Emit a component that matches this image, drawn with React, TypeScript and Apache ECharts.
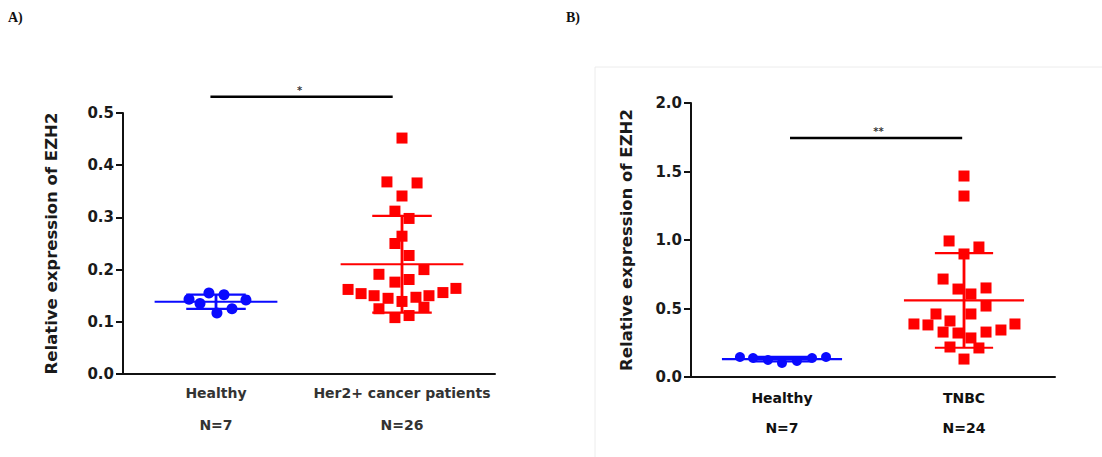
import React, { useEffect, useRef } from 'react';
import * as echarts from 'echarts';

// ---------- Panel A data ----------
const categoriesA = ['Healthy', 'Her2+ cancer patients'];
const healthyAValues = [0.143, 0.155, 0.152, 0.142, 0.117, 0.125, 0.135];
const healthyAOffsets = [-0.145, -0.038, 0.043, 0.161, 0.005, 0.086, -0.086];
const her2Values = [
  0.452, 0.368, 0.366, 0.341, 0.312, 0.298, 0.264, 0.25, 0.227, 0.2, 0.191, 0.176, 0.181,
  0.162, 0.154, 0.15, 0.145, 0.139, 0.147, 0.15, 0.156, 0.164, 0.125, 0.128, 0.108, 0.112,
];
const her2Offsets = [
  0, -0.081, 0.081, 0, -0.038, 0.038, 0, -0.038, 0.038, 0.118, -0.124, -0.038, 0.038,
  -0.29, -0.22, -0.15, -0.075, 0, 0.075, 0.145, 0.22, 0.29, -0.124, 0.118, -0.038, 0.038,
];
const yAxisA = { min: 0, max: 0.5, interval: 0.1 };
const sigA = { from: -0.03, to: 0.95, y: 0.531, starX: 0.45, label: '*' };

// ---------- Panel B data ----------
const categoriesB = ['Healthy', 'TNBC'];
const healthyBValues = [0.146, 0.139, 0.124, 0.102, 0.117, 0.139, 0.146];
const healthyBOffsets = [-0.231, -0.159, -0.077, 0, 0.082, 0.165, 0.242];
const tnbcValues = [
  1.467, 1.321, 0.993, 0.949, 0.898, 0.715, 0.642, 0.65, 0.606, 0.518, 0.46, 0.46, 0.387,
  0.38, 0.409, 0.387, 0.343, 0.328, 0.328, 0.321, 0.285, 0.219, 0.212, 0.131,
];
const tnbcOffsets = [
  0, 0, -0.082, 0.082, 0, -0.115, -0.033, 0.121, 0.038, 0.121, 0.038, -0.154, -0.275,
  -0.198, -0.077, 0.28, 0.203, 0.121, -0.115, -0.033, 0.038, -0.077, 0.082, 0,
];
const yAxisB = { min: 0, max: 2, interval: 0.5 };
const sigB = { from: 0.044, to: 0.99, y: 1.745, starX: 0.53, label: '**' };

const yTitle = 'Relative expression of EZH2';

const BLUE = '#0a0aff';
const RED = '#ff0000';
const FONT = '"DejaVu Sans", sans-serif';

function swarm(values: number[], offsets: number[], center: number) {
  return values.map((v, i) => [center + offsets[i], v]);
}

function meanSd(values: number[]) {
  const n = values.length;
  const m = values.reduce((a, b) => a + b, 0) / n;
  const sd = Math.sqrt(values.reduce((a, b) => a + (b - m) * (b - m), 0) / (n - 1));
  return [m, sd];
}

function statSeries(xIdx: number, yIdx: number, center: number, values: number[], color: string) {
  const [m, sd] = meanSd(values);
  return {
    type: 'custom',
    xAxisIndex: xIdx,
    yAxisIndex: yIdx,
    z: 3,
    silent: true,
    clip: false,
    data: [[center, m, sd]],
    renderItem: (params: any, api: any) => {
      const x = api.value(0);
      const mean = api.value(1);
      const s = api.value(2);
      const c = api.coord([x, mean]);
      const top = api.coord([x, mean + s]);
      const bot = api.coord([x, mean - s]);
      const halfMean = api.size([0.33, 0])[0];
      const halfCap = api.size([0.16, 0])[0];
      const st = { stroke: color, lineWidth: 2.2 };
      return {
        type: 'group',
        children: [
          { type: 'line', shape: { x1: c[0] - halfMean, y1: c[1], x2: c[0] + halfMean, y2: c[1] }, style: st },
          { type: 'line', shape: { x1: c[0], y1: top[1], x2: c[0], y2: bot[1] }, style: { stroke: color, lineWidth: 2.8 } },
          { type: 'line', shape: { x1: c[0] - halfCap, y1: top[1], x2: c[0] + halfCap, y2: top[1] }, style: st },
          { type: 'line', shape: { x1: c[0] - halfCap, y1: bot[1], x2: c[0] + halfCap, y2: bot[1] }, style: st },
        ],
      };
    },
  };
}

function panelAxes(
  gridIndex: number,
  categories: string[],
  counts: number[],
  yCfg: { min: number; max: number; interval: number },
  labelMargin: number,
  lineHeight: number,
  catColor: string,
  nameGap: number,
  tickFont: number,
) {
  const x = [
    {
      type: 'category',
      gridIndex,
      data: categories,
      boundaryGap: true,
      axisLine: { onZero: false, lineStyle: { color: '#111', width: 2 } },
      axisTick: { alignWithLabel: true, length: 6, lineStyle: { color: '#111', width: 2 } },
      axisLabel: {
        interval: 0,
        margin: labelMargin,
        lineHeight,
        fontFamily: FONT,
        fontWeight: 'bold',
        fontSize: 14,
        color: catColor,
        formatter: (v: string) => {
          const i = categories.indexOf(v);
          return `${v}\nN=${counts[i]}`;
        },
      },
      splitLine: { show: false },
    },
    {
      type: 'value',
      gridIndex,
      min: -0.5,
      max: 1.5,
      show: false,
      axisLine: { onZero: false },
      splitLine: { show: false },
    },
  ];
  const y = {
    type: 'value',
    gridIndex,
    min: yCfg.min,
    max: yCfg.max,
    interval: yCfg.interval,
    name: yTitle,
    nameLocation: 'middle',
    nameRotate: 90,
    nameGap,
    nameTextStyle: { fontFamily: FONT, fontWeight: 'bold', fontSize: 16.5, color: '#1a1a1a' },
    axisLine: { show: true, onZero: false, lineStyle: { color: '#111', width: 2 } },
    axisTick: { show: true, length: 7, lineStyle: { color: '#111', width: 2 } },
    axisLabel: {
      margin: 9,
      fontFamily: FONT,
      fontWeight: 'bold',
      fontSize: tickFont,
      color: '#1a1a1a',
      formatter: (v: number) => v.toFixed(1),
    },
    splitLine: { show: false },
  };
  return { x, y };
}

function sigSeries(xIdx: number, yIdx: number, sig: { from: number; to: number; y: number; starX: number; label: string }) {
  return [
    {
      type: 'line',
      xAxisIndex: xIdx,
      yAxisIndex: yIdx,
      clip: false,
      data: [
        [sig.from, sig.y],
        [sig.to, sig.y],
      ],
      symbol: 'none',
      silent: true,
      lineStyle: { color: '#000', width: 2.5 },
      z: 2,
    },
    {
      type: 'scatter',
      xAxisIndex: xIdx,
      yAxisIndex: yIdx,
      clip: false,
      data: [[sig.starX, sig.y]],
      symbolSize: 0,
      silent: true,
      label: {
        show: true,
        position: 'top',
        distance: 1,
        formatter: sig.label,
        fontFamily: FONT,
        fontWeight: 'bold',
        fontSize: 10,
        color: '#000',
      },
    },
  ];
}

export default function App() {
  const ref = useRef<HTMLDivElement>(null);

  useEffect(() => {
    document.body.style.margin = '0';
    if (!ref.current) return;
    const chart = echarts.init(ref.current, undefined, { renderer: 'svg' });

    const a = panelAxes(0, categoriesA, [healthyAValues.length, her2Values.length], yAxisA, 3, 32, '#333', 63, 15);
    const b = panelAxes(1, categoriesB, [healthyBValues.length, tnbcValues.length], yAxisB, 6, 30, '#111', 56, 15);

    chart.setOption({
      animation: false,
      backgroundColor: '#ffffff',
      grid: [
        { left: 123, top: 113, width: 372, height: 261 },
        { left: 691, top: 103, width: 364, height: 274 },
      ],
      xAxis: [...a.x, ...b.x],
      yAxis: [a.y, b.y],
      graphic: [
        {
          type: 'rect',
          shape: { x: 595, y: 67, width: 520, height: 400 },
          style: { fill: 'none', stroke: '#ececec', lineWidth: 1 },
          z: -1,
        },
        {
          type: 'text',
          left: 8,
          top: 10,
          style: { text: 'A)', font: 'bold 14px "Liberation Serif", serif', fill: '#111' },
        },
        {
          type: 'text',
          left: 566,
          top: 10,
          style: { text: 'B)', font: 'bold 14px "Liberation Serif", serif', fill: '#111' },
        },
      ],
      series: [
        statSeries(1, 0, 0, healthyAValues, BLUE),
        statSeries(1, 0, 1, her2Values, RED),
        {
          type: 'scatter',
          xAxisIndex: 1,
          yAxisIndex: 0,
          symbol: 'circle',
          symbolSize: 11,
          itemStyle: { color: BLUE, opacity: 1 },
          data: swarm(healthyAValues, healthyAOffsets, 0),
          z: 4,
        },
        {
          type: 'scatter',
          xAxisIndex: 1,
          yAxisIndex: 0,
          symbol: 'rect',
          symbolSize: 11,
          itemStyle: { color: RED, opacity: 1 },
          data: swarm(her2Values, her2Offsets, 1),
          z: 4,
        },
        ...sigSeries(1, 0, sigA),
        statSeries(3, 1, 0, healthyBValues, BLUE),
        statSeries(3, 1, 1, tnbcValues, RED),
        {
          type: 'scatter',
          xAxisIndex: 3,
          yAxisIndex: 1,
          symbol: 'circle',
          symbolSize: 10,
          itemStyle: { color: BLUE, opacity: 1 },
          data: swarm(healthyBValues, healthyBOffsets, 0),
          z: 4,
        },
        {
          type: 'scatter',
          xAxisIndex: 3,
          yAxisIndex: 1,
          symbol: 'rect',
          symbolSize: 11,
          itemStyle: { color: RED, opacity: 1 },
          data: swarm(tnbcValues, tnbcOffsets, 1),
          z: 4,
        },
        ...sigSeries(3, 1, sigB),
      ],
    });

    return () => chart.dispose();
  }, []);

  return <div ref={ref} style={{ width: 1102, height: 457 }} />;
}
